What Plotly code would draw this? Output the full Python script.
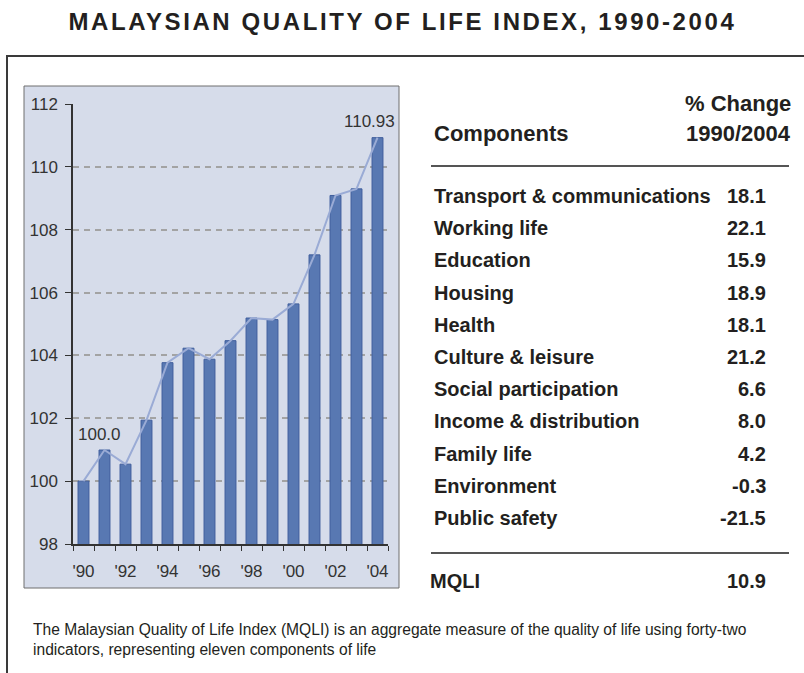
import plotly.graph_objects as go

# ---------------- data ----------------
years = list(range(1990, 2005))
mqli = [100.0, 100.99, 100.54, 101.94, 103.77, 104.23, 103.88, 104.47,
        105.19, 105.14, 105.64, 107.20, 109.09, 109.30, 110.93]
tick_years = [1990, 1992, 1994, 1996, 1998, 2000, 2002, 2004]
tick_labels = ["'90", "'92", "'94", "'96", "'98", "'00", "'02", "'04"]
y_ticks = [98, 100, 102, 104, 106, 108, 110, 112]

components = ["Transport & communications", "Working life", "Education", "Housing",
              "Health", "Culture & leisure", "Social participation",
              "Income & distribution", "Family life", "Environment", "Public safety"]
pct_change = ["18.1", "22.1", "15.9", "18.9", "18.1", "21.2", "6.6", "8.0", "4.2", "-0.3", "-21.5"]
mqli_change = "10.9"

title = "MALAYSIAN QUALITY OF LIFE INDEX, 1990-2004"
footnote = ("The Malaysian Quality of Life Index (MQLI) is an aggregate measure of the quality of life using forty-two"
            "<br>indicators, representing eleven components of life")

# ---------------- layout helpers ----------------
W, H = 804, 673
def px(x):
    return x / W
def py(y):
    return 1 - y / H

FONT = "Liberation Sans, Arial, Helvetica, sans-serif"
TXT = "#231f20"
BAR = "#5878b2"
BAR_EDGE = "#3f5d9c"
LINE = "#9aabd5"
PANEL = "#d6dcea"

fig = go.Figure()
fig.add_trace(go.Bar(x=years, y=mqli, width=0.52,
                     marker=dict(color=BAR, line=dict(color=BAR_EDGE, width=1)),
                     hoverinfo="skip"))
fig.add_trace(go.Scatter(x=years, y=mqli, mode="lines",
                         line=dict(color=LINE, width=2), hoverinfo="skip"))

shapes = []
# outer frame
shapes.append(dict(type="line", xref="paper", yref="paper", x0=px(6), x1=px(W + 5), y0=py(56), y1=py(56),
                   line=dict(color="#3a3a3a", width=2)))
shapes.append(dict(type="line", xref="paper", yref="paper", x0=px(7), x1=px(7), y0=py(55), y1=py(H + 5),
                   line=dict(color="#3a3a3a", width=2)))
# chart panel
shapes.append(dict(type="rect", xref="paper", yref="paper", x0=px(24), x1=px(399), y0=py(588), y1=py(86),
                   fillcolor=PANEL, line=dict(color="#6e6e6e", width=1), layer="below"))
# table rules
for yy in (166, 553):
    shapes.append(dict(type="line", xref="paper", yref="paper", x0=px(431), x1=px(789), y0=py(yy), y1=py(yy),
                       line=dict(color="#555555", width=2)))

ann = []
ann.append(dict(text="<b>" + title + "</b>", x=0.5, y=py(22), xref="paper", yref="paper",
                xanchor="center", yanchor="middle", showarrow=False,
                font=dict(family=FONT, size=24, color=TXT)))
# table header
hdr = dict(family=FONT, size=22, color=TXT)
ann.append(dict(text="<b>% Change</b>", x=px(793), y=py(103), xref="paper", yref="paper",
                xanchor="right", yanchor="middle", showarrow=False, font=hdr))
ann.append(dict(text="<b>Components</b>", x=px(432), y=py(134), xref="paper", yref="paper",
                xanchor="left", yanchor="middle", showarrow=False, font=hdr))
ann.append(dict(text="<b>1990/2004</b>", x=px(793), y=py(134), xref="paper", yref="paper",
                xanchor="right", yanchor="middle", showarrow=False, font=hdr))
row = dict(family=FONT, size=20, color=TXT)
for i, (c, v) in enumerate(zip(components, pct_change)):
    yy = 196 + 32.2 * i
    ann.append(dict(text="<b>" + c + "</b>", x=px(432), y=py(yy), xref="paper", yref="paper",
                    xanchor="left", yanchor="middle", showarrow=False, font=row))
    ann.append(dict(text="<b>" + v + "</b>", x=px(768), y=py(yy), xref="paper", yref="paper",
                    xanchor="right", yanchor="middle", showarrow=False, font=row))
ann.append(dict(text="<b>MQLI</b>", x=px(428), y=py(581), xref="paper", yref="paper",
                xanchor="left", yanchor="middle", showarrow=False, font=row))
ann.append(dict(text="<b>" + mqli_change + "</b>", x=px(768), y=py(581), xref="paper", yref="paper",
                xanchor="right", yanchor="middle", showarrow=False, font=row))
# footnote
ann.append(dict(text=footnote, x=px(31), y=py(619), xref="paper", yref="paper",
                xanchor="left", yanchor="top", align="left", showarrow=False,
                font=dict(family=FONT, size=15.6, color=TXT)))
# value labels on the chart
ann.append(dict(text=f"{mqli[0]:.1f}", x=years[0], y=mqli[0], xref="x", yref="y",
                xanchor="left", yanchor="middle", xshift=-8, yshift=47, showarrow=False,
                font=dict(family=FONT, size=17, color="#333333")))
ann.append(dict(text=f"{mqli[-1]:.2f}", x=years[-1], y=mqli[-1], xref="x", yref="y",
                xanchor="center", yanchor="middle", xshift=-8, yshift=16, showarrow=False,
                font=dict(family=FONT, size=17, color="#333333")))

boundaries = [y - 0.5 for y in years] + [years[-1] + 0.5]

fig.update_layout(
    width=W, height=H,
    margin=dict(l=0, r=0, t=0, b=0, autoexpand=False),
    paper_bgcolor="white", plot_bgcolor="rgba(0,0,0,0)",
    showlegend=False,
    shapes=shapes, annotations=ann,
    xaxis=dict(domain=[px(73), px(388)], range=[boundaries[0], boundaries[-1]],
               automargin=False,
               tickmode="array", tickvals=tick_years, ticktext=tick_labels,
               ticks="", showgrid=False, zeroline=False,
               showline=True, linecolor="#333333", linewidth=1.5,
               tickfont=dict(family=FONT, size=17, color="#333333"),
               ticklabelstandoff=11,
               minor=dict(tickmode="array", tickvals=boundaries, ticks="outside",
                          ticklen=5, tickcolor="#333333", tickwidth=1, showgrid=False)),
    yaxis=dict(domain=[py(544), py(104)], range=[98, 112],
               automargin=False,
               tickmode="array", tickvals=y_ticks,
               ticks="outside", ticklen=6, tickcolor="#333333", tickwidth=1,
               showline=True, linecolor="#333333", linewidth=1.5, zeroline=False,
               showgrid=True, gridcolor="#a3a3a3", gridwidth=1.5, griddash="6px,5px",
               tickfont=dict(family=FONT, size=17, color="#333333"),
               ticklabelstandoff=4),
    bargap=0.48,
)

post = """
document.documentElement.style.margin = '0';
document.documentElement.style.padding = '0';
document.documentElement.style.overflow = 'hidden';
document.body.style.margin = '0';
document.body.style.padding = '0';
document.body.style.overflow = 'hidden';
var gd = document.getElementById('{plot_id}');
function ls(){
  gd.querySelectorAll('text.annotation-text').forEach(function(t){
    if (t.textContent.indexOf('MALAYSIAN') === 0) { t.style.letterSpacing = '2.6px'; }
  });
}
ls(); setTimeout(ls, 30); setTimeout(ls, 200);
if (gd.on) { gd.on('plotly_afterplot', ls); }
"""
fig.write_html("out.html", post_script=post, config={"displayModeBar": False})
